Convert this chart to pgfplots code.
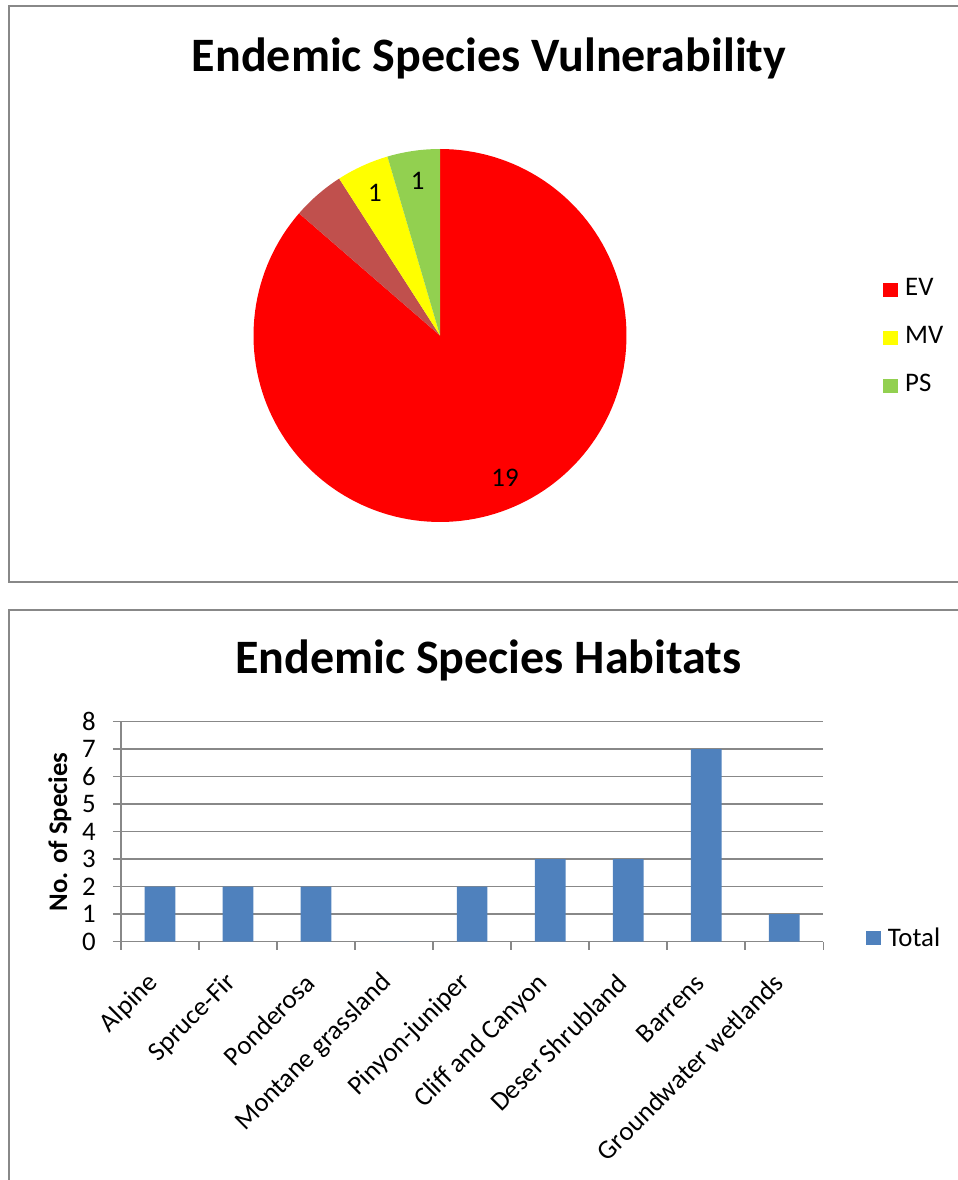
\documentclass[border=0pt]{standalone}
\usepackage{fontspec}
\setmainfont{Carlito}
\usepackage{pgfplots}
\pgfplotsset{compat=1.18}

\definecolor{pieRed}{HTML}{FF0000}
\definecolor{pieBrown}{HTML}{C0504D}
\definecolor{pieYellow}{HTML}{FFFF00}
\definecolor{pieGreen}{HTML}{92D050}
\definecolor{barBlue}{HTML}{4F81BD}
\definecolor{frameGray}{HTML}{888888}
\definecolor{gridGray}{HTML}{888888}

% pie data: EV, (unnamed), MV, PS
\def\vEV{19}
\def\vX{1}
\def\vMV{1}
\def\vPS{1}
\pgfmathsetmacro\tot{\vEV+\vX+\vMV+\vPS}
\pgfmathsetmacro\aA{90-360*\vEV/\tot}
\pgfmathsetmacro\aB{\aA-360*\vX/\tot}
\pgfmathsetmacro\aC{\aB-360*\vMV/\tot}
\pgfmathsetmacro\aD{\aC-360*\vPS/\tot}
\pgfmathsetmacro\mEV{(90+\aA)/2}
\pgfmathsetmacro\mMV{(\aB+\aC)/2}
\pgfmathsetmacro\mPS{(\aC+\aD)/2}

\newcommand\lblfont{\fontsize{13.4}{16}\selectfont}

\begin{document}
% 1 unit = 1 px of the 958x1180 picture, origin bottom left
\begin{tikzpicture}[x=0.5pt,y=0.5pt]
\useasboundingbox (0,0) rectangle (958,1180);
\draw[frameGray, line width=1pt] (962,1174) -- (8.5,1174) -- (8.5,597.5) -- (962,597.5);
\draw[frameGray, line width=1pt] (962,570) -- (8.5,570) -- (8.5,-4);

\node[anchor=base, font=\bfseries\fontsize{24}{29}\selectfont] at (489,1108) {Endemic Species Vulnerability};
\node[anchor=base, font=\bfseries\fontsize{24}{29}\selectfont] at (488.5,506) {Endemic Species Habitats};

\coordinate (pieC) at (440,844.5);
\coordinate (barSW) at (121,238.3);

% ---- pie ----
\begin{axis}[
  at={(pieC)}, anchor=center,
  scale only axis, width=186.5pt, height=186.5pt,
  xmin=-1, xmax=1, ymin=-1, ymax=1,
  hide axis, clip=false,
  legend style={at={(1.6877,0.650)}, anchor=north west, draw=none, fill=none,
    font=\lblfont, row sep=14pt, column sep=3.6pt, inner sep=0pt,
    nodes={inner sep=0pt, text height=8pt, text depth=2pt}},
  legend cell align=left,
  legend image code/.code={\fill[#1] (0pt,-3.6pt) rectangle (7.3pt,3.6pt);},
]
\addplot[fill=pieRed, draw=none, domain=\aA:90, samples=150, variable=\t]
  ({cos(\t)},{sin(\t)}) -- (axis cs:0,0) -- cycle;
\addlegendentry{EV}
\addplot[fill=pieBrown, draw=none, domain=\aB:\aA, samples=20, variable=\t, forget plot]
  ({cos(\t)},{sin(\t)}) -- (axis cs:0,0) -- cycle;
\addplot[fill=pieYellow, draw=none, domain=\aC:\aB, samples=20, variable=\t]
  ({cos(\t)},{sin(\t)}) -- (axis cs:0,0) -- cycle;
\addlegendentry{MV}
\addplot[fill=pieGreen, draw=none, domain=\aD:\aC, samples=20, variable=\t]
  ({cos(\t)},{sin(\t)}) -- (axis cs:0,0) -- cycle;
\addlegendentry{PS}
\node[font=\lblfont] at (axis cs:{0.84*cos(\mEV)},{0.84*sin(\mEV)}) {\vEV};
\node[font=\lblfont] at (axis cs:{0.84*cos(\mMV)},{0.84*sin(\mMV)}) {\vMV};
\node[font=\lblfont] at (axis cs:{0.84*cos(\mPS)},{0.84*sin(\mPS)}) {\vPS};
\end{axis}

% ---- bars ----
\begin{axis}[
  at={(barSW)}, anchor=south west,
  scale only axis, width=351.15pt, height=110pt,
  ybar, bar width=15.35pt,
  xmin=-0.5, xmax=8.5, ymin=0, ymax=8,
  xtick={0,...,8},
  xticklabels={Alpine,Spruce-Fir,Ponderosa,Montane grassland,Pinyon-juniper,Cliff and Canyon,Deser Shrubland,Barrens,Groundwater wetlands},
  minor xtick={-0.5,0.5,...,8.5},
  ytick={0,...,8},
  ymajorgrids, grid style={gridGray, line width=0.75pt},
  axis x line*=bottom, axis y line*=left,
  axis line style={gridGray, line width=0.75pt, -},
  tick align=outside, major tick length=4pt, minor tick length=4pt,
  tick style={gridGray, line width=0.75pt},
  major x tick style={draw=none},
  ticklabel style={font=\lblfont},
  /pgf/number format/assume math mode=true,
  xticklabel style={xshift=-3pt, yshift=-14.5pt, rotate=45, anchor=east, inner sep=0pt},
  yticklabel style={anchor=east, inner sep=0pt, xshift=-8.5pt},
  ylabel={No. of Species},
  ylabel style={at={(axis description cs:-0.087,0.5)}, anchor=center, font=\bfseries\lblfont},
  legend style={at={(1.0608,0.0155)}, anchor=west, draw=none, fill=none,
    font=\lblfont, column sep=3.4pt, inner sep=0pt, nodes={inner sep=0pt}},
  legend image code/.code={\fill[#1] (0pt,-3.6pt) rectangle (7.3pt,3.6pt);},
]
\addplot[fill=barBlue, draw=none] coordinates {
  (0,2) (1,2) (2,2) (3,0) (4,2) (5,3) (6,3) (7,7) (8,1)};
\addlegendentry{Total}
\end{axis}
\end{tikzpicture}
\end{document}
